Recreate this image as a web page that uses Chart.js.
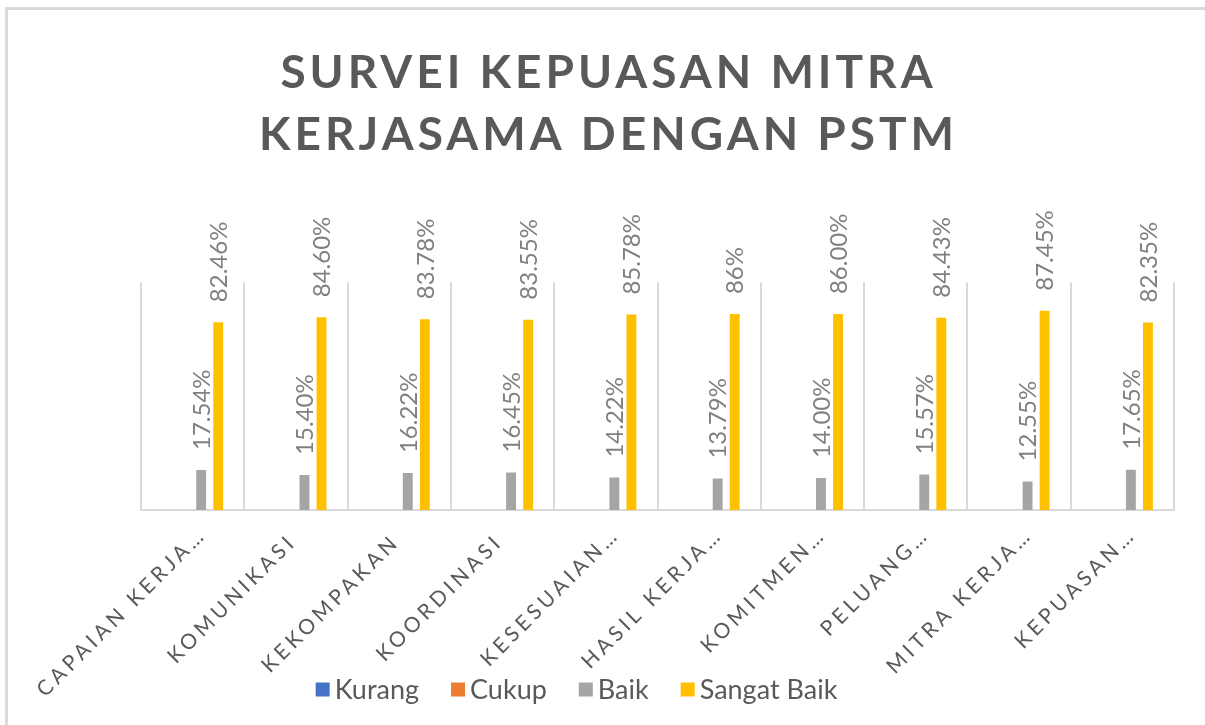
<!DOCTYPE html>
<html><head><meta charset="utf-8">
<script src="https://cdn.jsdelivr.net/npm/chart.js@4/dist/chart.umd.min.js"></script>
<style>html,body{margin:0;padding:0;background:#fff;overflow:hidden}#wrap{width:1205px;height:725px;position:relative}</style>
</head><body><div id="wrap"><canvas id="c" width="1205" height="725"></canvas></div>
<script>
const categories = ['CAPAIAN KERJA…','KOMUNIKASI','KEKOMPAKAN','KOORDINASI','KESESUAIAN…','HASIL KERJA…','KOMITMEN…','PELUANG…','MITRA KERJA…','KEPUASAN…'];
const seriesNames = ['Kurang','Cukup','Baik','Sangat Baik'];
const kurang = [0,0,0,0,0,0,0,0,0,0];
const cukup = [0,0,0,0,0,0,0,0,0,0];
const baik = [17.54,15.40,16.22,16.45,14.22,13.79,14.00,15.57,12.55,17.65];
const sangatBaik = [82.46,84.60,83.78,83.55,85.78,86.00,86.00,84.43,87.45,82.35];
const baikLabels = ['17.54%','15.40%','16.22%','16.45%','14.22%','13.79%','14.00%','15.57%','12.55%','17.65%'];
const sangatBaikLabels = ['82.46%','84.60%','83.78%','83.55%','85.78%','86%','86.00%','84.43%','87.45%','82.35%'];
const titleLines = ['SURVEI KEPUASAN MITRA','KERJASAMA DENGAN PSTM'];

const frame = {
  id: 'frame',
  beforeDraw(chart) {
    const ctx = chart.ctx;
    ctx.save();
    ctx.fillStyle = '#ffffff';
    ctx.fillRect(0, 0, chart.width, chart.height);
    ctx.fillStyle = '#dadada';
    ctx.fillRect(5, 7, 3, chart.height - 7);
    ctx.fillRect(5, 7, chart.width - 5, 3);
    ctx.restore();
    ctx.letterSpacing = '4px';
  },
  beforeDatasetsDraw(chart) { chart.ctx.letterSpacing = '0px'; }
};

const valueLabels = {
  id: 'valueLabels',
  afterDatasetsDraw(chart) {
    const ctx = chart.ctx;
    ctx.save();
    ctx.letterSpacing = '0px';
    ctx.font = '24px Lato';
    ctx.fillStyle = '#808080';
    ctx.textAlign = 'left';
    ctx.textBaseline = 'middle';
    chart.data.datasets.forEach((ds, di) => {
      if (!ds.valueLabels) return;
      const meta = chart.getDatasetMeta(di);
      meta.data.forEach((bar, i) => {
        ctx.save();
        ctx.translate(bar.x + 1, bar.y - 20);
        ctx.rotate(-Math.PI / 2);
        ctx.fillText(ds.valueLabels[i], 0, 0);
        ctx.restore();
      });
    });
    ctx.restore();
  }
};

const xLabels = {
  id: 'xLabels',
  afterDraw(chart) {
    const ctx = chart.ctx, sx = chart.scales.x;
    ctx.save();
    ctx.font = '21px Lato';
    ctx.letterSpacing = '4px';
    ctx.fillStyle = '#595959';
    ctx.textAlign = 'right';
    ctx.textBaseline = 'middle';
    chart.data.labels.forEach((lab, i) => {
      const x = sx.getPixelForValue(i);
      const cut = lab.endsWith('…');
      const dx = cut ? 10 : -3, dy = cut ? 21 : 28;
      ctx.save();
      ctx.translate(x + dx, sx.top + dy);
      ctx.rotate(-Math.PI / 4);
      ctx.fillText(lab, 0, 0);
      ctx.restore();
    });
    ctx.restore();
  }
};

const customLegend = {
  id: 'customLegend',
  afterDraw(chart) {
    const ctx = chart.ctx;
    ctx.save();
    ctx.letterSpacing = '0px';
    ctx.font = '27px Lato';
    ctx.textBaseline = 'middle';
    ctx.textAlign = 'left';
    const items = chart.data.datasets.map(d => ({ text: d.label, color: d.backgroundColor }));
    const box = 14, gapText = 5, gapItem = 32;
    const widths = items.map(it => box + gapText + ctx.measureText(it.text).width);
    const total = widths.reduce((a, b) => a + b, 0) + gapItem * (items.length - 1);
    let x = 576.5 - total / 2;
    const cy = 689.5;
    items.forEach((it, i) => {
      ctx.fillStyle = it.color;
      ctx.fillRect(x, cy - 7, box, box);
      ctx.fillStyle = '#595959';
      ctx.fillText(it.text, x + box + gapText, cy + 1);
      x += widths[i] + gapItem;
    });
    ctx.restore();
  }
};

new Chart(document.getElementById('c'), {
  type: 'bar',
  data: {
    labels: categories,
    datasets: [
      { label: seriesNames[0], data: kurang, backgroundColor: '#4472C4', borderWidth: 0 },
      { label: seriesNames[1], data: cukup, backgroundColor: '#ED7D31', borderWidth: 0 },
      { label: seriesNames[2], data: baik, backgroundColor: '#A5A5A5', borderWidth: 0, valueLabels: baikLabels },
      { label: seriesNames[3], data: sangatBaik, backgroundColor: '#FFC000', borderWidth: 0, valueLabels: sangatBaikLabels }
    ]
  },
  options: {
    responsive: false,
    animation: false,
    devicePixelRatio: 1,
    categoryPercentage: 0.66,
    barPercentage: 0.58,
    layout: { padding: { left: 12, right: 0, top: 0, bottom: 0 } },
    plugins: {
      legend: { display: false },
      tooltip: { enabled: false },
      title: {
        display: true,
        text: titleLines,
        color: '#595959',
        font: { family: 'Lato', size: 46, weight: 'bold', lineHeight: 1.35 },
        padding: { top: 42, bottom: 116 }
      }
    },
    scales: {
      x: {
        grid: { display: true, offset: true, color: '#d9d9d9', lineWidth: 2, drawTicks: false },
        border: { display: true, color: '#d9d9d9', width: 2 },
        ticks: { display: false },
        afterFit(s) { s.height = 215; }
      },
      y: {
        min: 0, max: 100,
        grid: { display: false },
        border: { display: false },
        ticks: { display: false },
        afterFit(s) { s.width = 129; }
      },
      y2: {
        type: 'linear',
        position: 'right',
        display: true,
        grid: { display: false },
        border: { display: false },
        ticks: { display: false },
        afterFit(s) { s.width = 31; }
      }
    }
  },
  plugins: [frame, valueLabels, xLabels, customLegend]
});
</script>
</body></html>
